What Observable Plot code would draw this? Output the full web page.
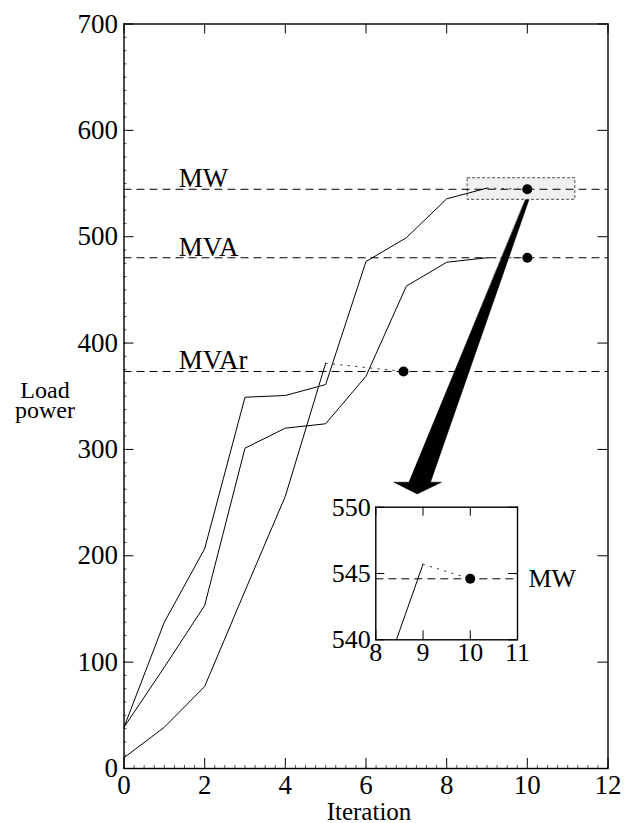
<!DOCTYPE html>
<html>
<head>
<meta charset="utf-8">
<script src="https://cdn.jsdelivr.net/npm/d3@7"></script>
<script src="https://cdn.jsdelivr.net/npm/@observablehq/plot@0.6"></script>
<style>
  html, body { margin: 0; padding: 0; background: #fff; }
  #wrap { position: relative; width: 629px; height: 823px; overflow: hidden; }
  #main { position: absolute; left: 0; top: 0; }
  #inset { position: absolute; left: 320px; top: 495px; }
</style>
</head>
<body>
<div id="wrap"><div id="main"></div><div id="inset"></div></div>
<script>
// ---- data ----
const iterations = [0, 1, 2, 3, 4, 5, 6, 7, 8, 9];
const mwValues   = [38.8, 137.6, 206.6, 349.1, 350.7, 361.0, 476.7, 499.0, 535.6, 545.7];
const mvaValues  = [38.8, 95.2, 153.3, 301.2, 320.0, 324.1, 368.9, 453.5, 476.0, 480.2];
const mvarIterations = [0, 1, 2, 3, 4, 5];
const mvarValues = [10.1, 38.8, 77.1, 167.0, 256.0, 381.0];

const finalLabels     = ["MW", "MVA", "MVAr"];
const finalIterations = [10, 10, 6.93];
const finalValues     = [544.6, 480.2, 373.3];

const xTicks = [0, 2, 4, 6, 8, 10, 12];
const yTicks = [0, 100, 200, 300, 400, 500, 600, 700];
const xMinorTicks = d3.range(0, 12.001, 0.25);
const yMinorTicks = d3.range(0, 700.001, 12.5);

const insetXTicks = [8, 9, 10, 11];
const insetYTicks = [540, 545, 550];

const zoomBoxX = [8.52, 11.19];
const zoomBoxY = [534.7, 555.0];

const arrowX = [9.953, 10.04, 7.599, 7.872, 7.270, 6.690, 7.061];
const arrowY = [534.7, 534.7, 269.2, 269.2, 258.1, 269.2, 269.2];

const labelIteration = 1.36;

// ---- tables built from the arrays ----
const seriesDefs = [
  {name: "MW", xs: iterations, ys: mwValues},
  {name: "MVA", xs: iterations, ys: mvaValues},
  {name: "MVAr", xs: mvarIterations, ys: mvarValues}
];
const rows = seriesDefs.flatMap(s => s.xs.map((x, i) => ({series: s.name, x, y: s.ys[i]})));
const finals = finalLabels.map((name, i) => ({series: name, x: finalIterations[i], y: finalValues[i]}));
const connectors = seriesDefs.flatMap((s, i) => [
  {series: s.name, x: s.xs[s.xs.length - 1], y: s.ys[s.ys.length - 1]},
  {series: s.name, x: finalIterations[i], y: finalValues[i]}
]);
const arrow = arrowX.map((x, i) => ({x, y: arrowY[i]}));
const box = [{x1: zoomBoxX[0], x2: zoomBoxX[1], y1: zoomBoxY[0], y2: zoomBoxY[1]}];

const font = "Liberation Serif, Times New Roman, serif";
const fs = 27;

// ---- main chart ----
const W = 629, H = 823;
const mL = 123.5, mR = 21.5, mT = 23.5, mB = 55;
const pw = W - mL - mR, ph = H - mT - mB;
const major = 10, minor = 3;

const main = Plot.plot({
  width: W, height: H,
  marginLeft: mL, marginRight: mR, marginTop: mT, marginBottom: mB,
  x: {domain: [0, 12]},
  y: {domain: [0, 700]},
  style: {fontFamily: font, fontSize: fs + "px", color: "black", background: "transparent"},
  marks: [
    Plot.rect(box, {x1: "x1", x2: "x2", y1: "y1", y2: "y2", fill: "#f0f0f0", stroke: "#222", strokeWidth: 0.8, strokeDasharray: "3,2"}),
    Plot.ruleY(finalValues, {stroke: "black", strokeWidth: 1, strokeDasharray: "8,5"}),
    Plot.line(rows, {x: "x", y: "y", z: "series", stroke: "black", strokeWidth: 1}),
    Plot.line(connectors, {x: "x", y: "y", z: "series", stroke: "#333", strokeWidth: 1, strokeDasharray: "1.5,6"}),
    Plot.dot(finals, {x: "x", y: "y", r: 5, fill: "black", stroke: "none"}),
    Plot.text(finals, {x: () => labelIteration, y: "y", text: "series", textAnchor: "start", lineAnchor: "bottom", dy: -2, fontSize: fs}),
    Plot.line(arrow, {x: "x", y: "y", fill: "black", stroke: "black", strokeWidth: 0.5, curve: "linear-closed"}),
    // inward major ticks on all four sides
    Plot.tickY(yTicks, {y: d => d, insetRight: pw - major, stroke: "black"}),
    Plot.tickY(yTicks, {y: d => d, insetLeft: pw - major, stroke: "black"}),
    Plot.tickX(xTicks, {x: d => d, insetBottom: ph - major, stroke: "black"}),
    Plot.tickX(xTicks, {x: d => d, insetTop: ph - major, stroke: "black"}),
    // minor ticks on left and bottom
    Plot.tickY(yMinorTicks, {y: d => d, insetRight: pw - minor, stroke: "#555"}),
    Plot.tickX(xMinorTicks, {x: d => d, insetTop: ph - minor, stroke: "#555"}),
    Plot.frame({stroke: "black", strokeWidth: 1.4}),
    Plot.axisX(xTicks, {tickSize: 0, tickPadding: 6, label: null, fontSize: fs}),
    Plot.axisY(yTicks, {tickSize: 0, tickPadding: 6, label: null, fontSize: fs}),
    Plot.text(["Iteration"], {frameAnchor: "bottom", dx: 3, dy: 51, lineAnchor: "bottom", fontSize: 25}),
    Plot.text(["Load\npower"], {frameAnchor: "left", textAnchor: "middle", dx: -79, dy: 22, lineAnchor: "bottom", lineHeight: 0.85, fontSize: 24})
  ]
});
document.getElementById("main").appendChild(main);

// ---- inset ----
const IW = 270, IH = 175;
const iL = 55.3, iR = 73, iT = 11.7, iB = 30.7;
const ipw = IW - iL - iR, iph = IH - iT - iB;
const itk = 9;
const mwFinal = [finals[0]];

const inset = Plot.plot({
  width: IW, height: IH,
  marginLeft: iL, marginRight: iR, marginTop: iT, marginBottom: iB,
  x: {domain: [8, 11]},
  y: {domain: [540, 550]},
  style: {fontFamily: font, fontSize: "26px", color: "black", background: "transparent", overflow: "visible"},
  marks: [
    Plot.frame({fill: "white", stroke: "none"}),
    Plot.ruleY([finalValues[0]], {stroke: "black", strokeWidth: 1, strokeDasharray: "8,5"}),
    Plot.line(rows.filter(d => d.series === "MW"), {x: "x", y: "y", stroke: "black", strokeWidth: 1, clip: true}),
    Plot.line(connectors.filter(d => d.series === "MW"), {x: "x", y: "y", stroke: "#333", strokeWidth: 1, strokeDasharray: "1.5,6", clip: true}),
    Plot.dot(mwFinal, {x: "x", y: "y", r: 5, fill: "black", stroke: "none"}),
    Plot.text(mwFinal, {frameAnchor: "right", y: "y", text: "series", textAnchor: "start", dx: 11, fontSize: 26}),
    Plot.tickY(insetYTicks, {y: d => d, insetRight: ipw - itk, stroke: "black"}),
    Plot.tickY(insetYTicks, {y: d => d, insetLeft: ipw - itk, stroke: "black"}),
    Plot.tickX(insetXTicks, {x: d => d, insetBottom: iph - itk, stroke: "black"}),
    Plot.tickX(insetXTicks, {x: d => d, insetTop: iph - itk, stroke: "black"}),
    Plot.frame({stroke: "black", strokeWidth: 1.4}),
    Plot.axisX(insetXTicks, {tickSize: 0, tickPadding: 3, label: null, fontSize: 26}),
    Plot.axisY(insetYTicks, {tickSize: 0, tickPadding: 5, label: null, fontSize: 26})
  ]
});
document.getElementById("inset").appendChild(inset);
</script>
</body>
</html>
